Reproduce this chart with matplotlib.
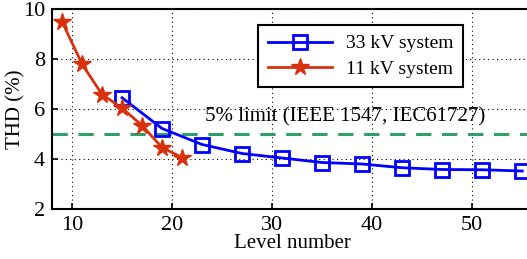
import numpy as np
import matplotlib.pyplot as plt

# THD vs level number
lv33 = [15, 19, 23, 27, 31, 35, 39, 43, 47, 51, 55]
thd33 = [6.45, 5.22, 4.58, 4.22, 4.04, 3.86, 3.8, 3.65, 3.58, 3.57, 3.52]
lv11 = [9, 11, 13, 15, 17, 19, 21]
thd11 = [9.5, 7.8, 6.58, 6.04, 5.34, 4.46, 4.06]
limit = 5

plt.rcParams['font.family'] = ['Liberation Serif', 'DejaVu Serif']
plt.rcParams['font.size'] = 15
plt.rcParams['mathtext.fontset'] = 'stix'

fig = plt.figure(figsize=(5.27, 2.59), dpi=100)
ax = fig.add_axes([52/527, 1-209/259, 1-52/527+0.01, 200/259])

ax.axhline(limit, color='#2e9e6a', linestyle=(0, (5, 3.5)), linewidth=2.2, zorder=2)
ax.plot(lv33, thd33, color='#0000ff', linewidth=2, marker='s', markersize=10,
        markerfacecolor='none', markeredgewidth=2, label='33 kV system', zorder=3)
ax.plot(lv11, thd11, color='#d9300d', linewidth=2, marker='*', markersize=13,
        markeredgewidth=1, label='11 kV system', zorder=3)
ax.text(23.3, 5.68, '5% limit (IEEE 1547, IEC61727)', fontsize=15, va='center')

ax.set_xlim(8, 56)
ax.set_ylim(2, 10)
ax.set_xticks([10, 20, 30, 40, 50])
ax.set_yticks([2, 4, 6, 8, 10])
ax.grid(True, color='black', linestyle=(0, (1, 3)), linewidth=0.8)
ax.tick_params(direction='in', width=1.2, length=4, pad=5, labelsize=16)
for s in ax.spines.values():
    s.set_linewidth(1.5)
ax.set_xlabel('Level number', labelpad=-1)
ax.set_ylabel('THD (%)')
ax.yaxis.set_label_coords(-0.056, 0.5)

leg = ax.legend(loc='upper left', bbox_to_anchor=(0.429, 0.92), borderaxespad=0,
                fancybox=False, framealpha=1, edgecolor='black', handlelength=3.3,
                borderpad=0.5, fontsize=14, labelspacing=0.4, handletextpad=0.7)
leg.get_frame().set_linewidth(1.5)

fig.savefig('out.png', dpi=100)
